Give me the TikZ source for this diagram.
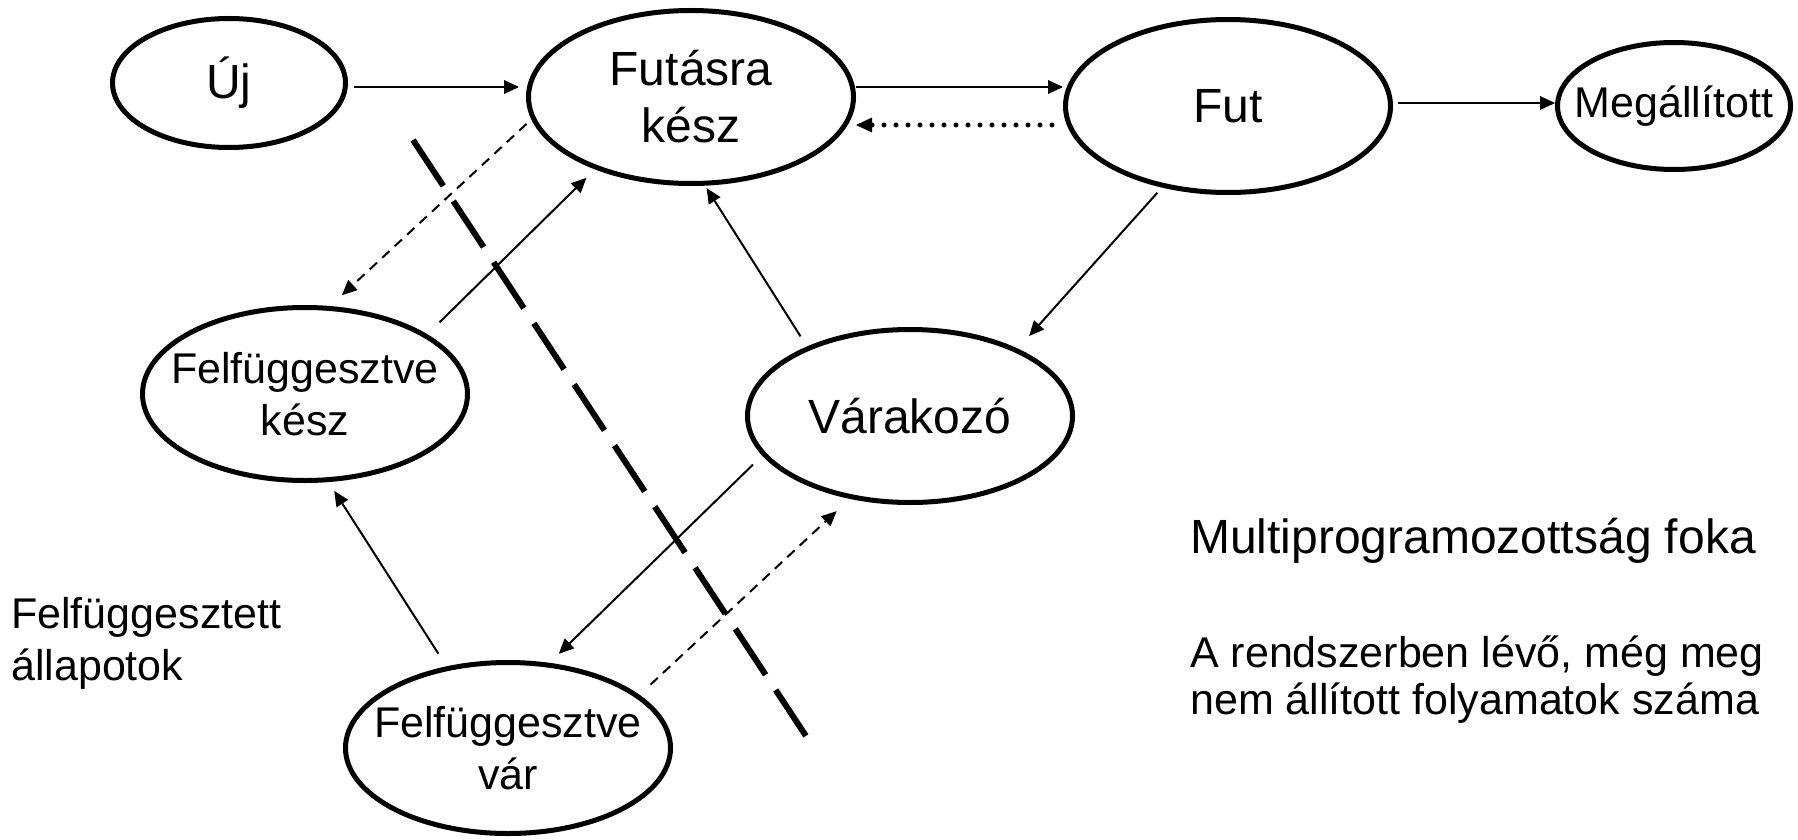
\documentclass[tikz,border=0pt]{standalone}
\usepackage{fontspec}
\setmainfont{Liberation Sans}
\usetikzlibrary{shapes.geometric,arrows.meta}

\tikzset{
  state/.style={ellipse, draw, line width=5pt, inner sep=0pt},
  bigstate/.style={state, minimum width=325pt, minimum height=173pt},
  smallstate/.style={state, minimum width=233pt, minimum height=129pt},
  bigtxt/.style={align=center, font=\fontsize{48}{57}\selectfont},
  midtxt/.style={align=center, font=\fontsize{43}{52}\selectfont},
  tip/.style={-{Triangle[length=15pt,width=14pt,line width=0pt]}},
  conn/.style={tip, line width=2pt},
  dashconn/.style={conn, dash pattern=on 10pt off 7pt},
  dotconn/.style={-{Triangle[length=16pt,width=15pt,line width=0pt]},
    line width=5pt, line cap=round, dash pattern=on 0pt off 12pt},
  divider/.style={line width=6pt, dash pattern=on 55pt off 18.2pt},
  sidetxt/.style={anchor=base west, inner sep=0pt}
}

\begin{document}
\begin{tikzpicture}[x=1pt,y=-1pt]
  \useasboundingbox (0,0) rectangle (1798,840);

  % process states
  \node[smallstate, label={[bigtxt]center:{Új}}] (uj) at (229,83) {};
  \node[bigstate, label={[bigtxt]center:{Futásra\\kész}}] (fk) at (691,97) {};
  \node[bigstate, label={[bigtxt]center:{Fut}}] (fut) at (1228,106) {};
  \node[smallstate, minimum height=127pt, label={[midtxt]center:{Megállított}}] (meg) at (1674,106) {};
  \node[bigstate, label={[midtxt]center:{Felfüggesztve\\kész}}] (fke) at (305,394) {};
  \node[bigstate, label={[bigtxt]center:{Várakozó}}] (var) at (910,416) {};
  \node[bigstate, minimum height=171pt, label={[midtxt]center:{Felfüggesztve\\vár}}] (fva) at (508,748) {};

  % transitions
  \draw[conn, shorten <=6pt, shorten >=7pt] ([yshift=-4pt]uj.east) -- ([yshift=10pt]fk.west);
  \draw[conn] ([yshift=10pt]fk.east) -- ([yshift=19pt]fut.west);
  \draw[dotconn, shorten <=11pt] ([yshift=-19pt]fut.west) -- ([yshift=-28pt]fk.east);
  \draw[conn, shorten <=5pt] ([yshift=3pt]fut.east) -- ([yshift=3pt]meg.west);
  \draw[conn, shorten <=7pt, shorten >=17pt] (fut.231.2) -- (var.32.7);
  \draw[conn, shorten <=12pt, shorten >=3pt] (var.146.1) -- (fk.-81.9);
  \draw[conn, shorten <=17pt, shorten >=12pt] (fke.26.6) -- (fk.217.6);
  \draw[dashconn, shorten <=6.5pt, shorten >=16pt] (fk.188.5) -- (fke.74.2);
  \draw[conn, shorten <=15pt, shorten >=10.5pt] (fva.127.2) -- (fke.-75.8);
  \draw[conn, shorten <=13pt, shorten >=13pt] (var.195.6) -- (fva.64.4);
  \draw[dashconn, shorten <=15pt, shorten >=18pt] (fva.22.9) -- (var.234.2);

  % boundary of the suspended states
  \draw[divider] (413,140) -- (806,736);

  % annotations
  \node[sidetxt, font=\fontsize{43}{52}\selectfont] (sa) at (11,628) {Felfüggesztett};
  \node[sidetxt, font=\fontsize{43}{52}\selectfont] (sb) at (11,680) {állapotok};
  \node[sidetxt, font=\fontsize{48}{57}\selectfont] (ma) at (1190,553) {Multiprogramozottság foka};
  \node[sidetxt, font=\fontsize{43}{52}\selectfont] (mb) at (1190,667) {A rendszerben lévő, még meg};
  \node[sidetxt, font=\fontsize{43}{52}\selectfont] (mc) at (1190,714) {nem állított folyamatok száma};
\end{tikzpicture}
\end{document}
